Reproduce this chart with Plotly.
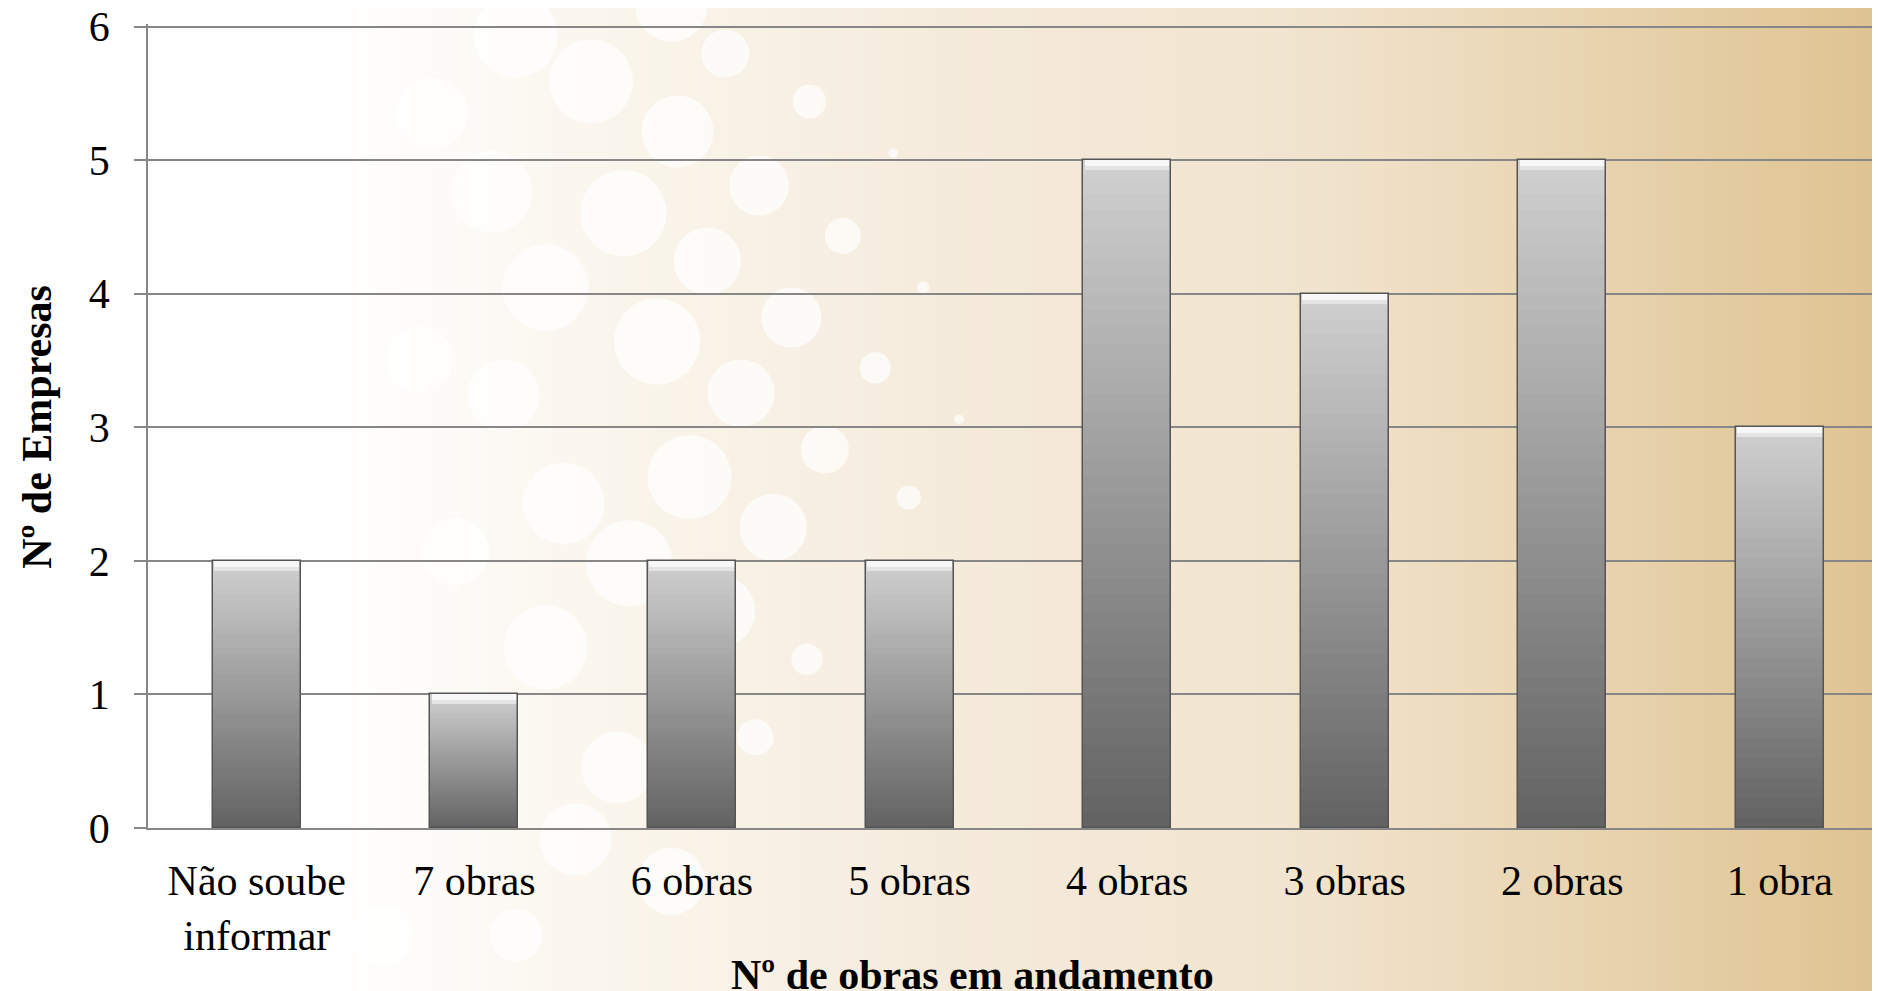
import plotly.graph_objects as go

# data
categories = ["Não soube<br>informar", "7 obras", "6 obras", "5 obras",
              "4 obras", "3 obras", "2 obras", "1 obra"]
empresas = [2, 1, 2, 2, 5, 4, 5, 3]

x_title = "Nº de obras em andamento"
y_title = "Nº de Empresas"

# layout geometry; the page body adds an 8px margin around the figure
OFF = 8
W, H = 1880 - OFF, 991 - OFF
YMAX = 6.02                         # a hair above 6 so the top gridline is kept
PL, PB = 148, 828                   # plot left / bottom in page pixels
PT = PB - (PB - 27) / 6 * YMAX      # so that y=6 sits at page y=27
L, R, T, B = PL - OFF, 0, PT - OFF, H - (PB - OFF)
PW, PH = W - L - R, H - T - B

FONT = "Liberation Serif, Times New Roman, serif"
GRID = "#878787"

# background decoration: horizontal colour ramp + soft bokeh circles
bg_stops = [(0, (255, 255, 255)), (330, (255, 255, 255)), (620, (250, 245, 236)),
            (950, (245, 235, 220)), (1300, (241, 228, 207)), (1550, (233, 214, 180)),
            (1880, (223, 195, 145))]
# (x, y, r) in pixels of the shrunk view, scaled below
bokeh = [(493, 68, 35), (565, 110, 30), (605, 45, 20), (675, 85, 14), (633, 155, 25),
         (520, 178, 36), (590, 218, 28), (703, 197, 15), (660, 265, 25), (548, 285, 36),
         (618, 328, 28), (730, 307, 13), (688, 375, 20), (575, 398, 35), (645, 440, 28),
         (758, 415, 10), (525, 470, 36), (600, 510, 30), (673, 550, 13), (630, 615, 15),
         (455, 540, 35), (515, 640, 30), (430, 30, 35), (360, 95, 30), (410, 160, 34),
         (455, 240, 36), (420, 330, 30), (470, 420, 34), (380, 460, 28), (560, 5, 30),
         (770, 240, 5), (800, 350, 4), (745, 128, 4), (480, 700, 30), (560, 735, 28),
         (320, 780, 25), (430, 780, 22), (400, 620, 30), (350, 300, 28)]


def ramp(px):
    for (x0, c0), (x1, c1) in zip(bg_stops, bg_stops[1:]):
        if x0 <= px <= x1:
            t = (px - x0) / (x1 - x0) if x1 > x0 else 0
            return "rgb(%d,%d,%d)" % tuple(round(a + (b - a) * t) for a, b in zip(c0, c1))
    return "rgb(%d,%d,%d)" % bg_stops[-1][1]


def to_paper_x(px):
    # page pixel -> paper fraction
    return (px - PL) / PW


def to_paper_y(py):
    return (PB - py) / PH


shapes = []
step = 10
for px in range(0, 1880, step):
    shapes.append(dict(type="rect", xref="paper", yref="paper", layer="below",
                       x0=to_paper_x(px), x1=to_paper_x(px + step + 1),
                       y0=to_paper_y(1000), y1=to_paper_y(-5),
                       fillcolor=ramp(px + step / 2), line_width=0))
s = 1880 / 1568
for cx, cy, r in bokeh:
    cx, cy, r = cx * s, cy * s, r * s
    shapes.append(dict(type="circle", xref="paper", yref="paper", layer="below",
                       x0=to_paper_x(cx - r), x1=to_paper_x(cx + r),
                       y0=to_paper_y(cy + r), y1=to_paper_y(cy - r),
                       fillcolor="white", opacity=0.7, line_width=0))

fig = go.Figure()

# bars: vertical grey gradient built from thin overlaid slices of each bar
K = 40
dark, light = 0x62, 0xd0
BW = 0.404
for k in range(K):
    g = round(dark + (light - dark) * (k + 0.5) / K)
    fig.add_trace(go.Bar(x=categories, y=[v / K for v in empresas],
                         base=[v * k / K for v in empresas], width=BW,
                         marker=dict(color="rgb(%d,%d,%d)" % (g, g, g), line_width=0),
                         showlegend=False, hoverinfo="skip"))
# bevel highlight at the top of each bar
for h, col in [(0.075, "#e4e4e4"), (0.045, "#f7f7f7")]:
    fig.add_trace(go.Bar(x=categories, y=[h] * len(empresas),
                         base=[v - h for v in empresas], width=BW * 0.97,
                         marker=dict(color=col, line_width=0),
                         showlegend=False, hoverinfo="skip"))
# outline
fig.add_trace(go.Bar(x=categories, y=empresas, width=BW,
                     marker=dict(color="rgba(0,0,0,0)", line=dict(color="#555555", width=1.5)),
                     showlegend=False, hovertemplate="%{x}: %{y}<extra></extra>"))

fig.update_layout(
    width=W, height=H,
    margin=dict(l=L, r=R, t=T, b=B, autoexpand=False),
    paper_bgcolor="white", plot_bgcolor="rgba(0,0,0,0)",
    barmode="overlay", bargap=0,
    font=dict(family=FONT, size=42, color="black"),
    shapes=shapes,
    xaxis=dict(type="category", range=[-0.5, 7.46], showgrid=False, automargin=False,
               showline=True, linecolor=GRID, linewidth=1.5, ticks="",
               tickfont=dict(family=FONT, size=42), ticklabelstandoff=15),
    yaxis=dict(range=[0, YMAX], tickvals=[0, 1, 2, 3, 4, 5, 6],
               showgrid=True, gridcolor=GRID, gridwidth=1.5,
               showline=True, linecolor=GRID, linewidth=1.5, zeroline=False,
               automargin=False, ticklabeloverflow="allow",
               ticks="outside", ticklen=12, tickcolor=GRID, tickwidth=1.5,
               tickfont=dict(family=FONT, size=42), ticklabelstandoff=16),
    annotations=[
        dict(text="<b>%s</b>" % x_title, xref="paper", yref="paper",
             x=to_paper_x(972), y=to_paper_y(975), xanchor="center", yanchor="middle",
             showarrow=False, font=dict(family=FONT, size=42, color="black")),
        dict(text="<b>%s</b>" % y_title, xref="paper", yref="paper",
             x=to_paper_x(37), y=to_paper_y(427), xanchor="center", yanchor="middle",
             textangle=-90, showarrow=False,
             font=dict(family=FONT, size=42, color="black")),
    ],
)

fig.write_html("out.html")
